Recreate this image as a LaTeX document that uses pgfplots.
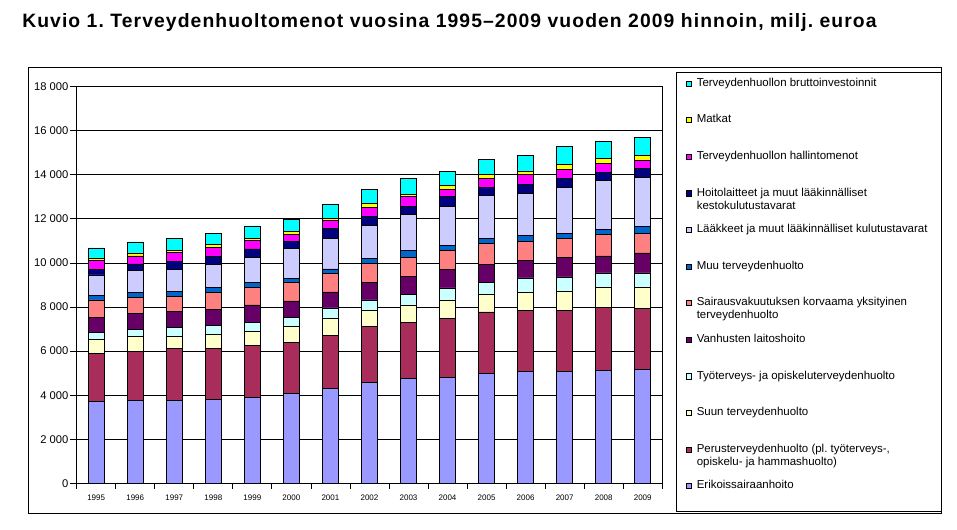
\documentclass[border=0pt]{standalone}
\usepackage{pgfplots}
\usepackage{pgfplotstable}
\pgfplotsset{compat=1.18}
\usepackage{fontspec}
\setmainfont{Liberation Sans}
\frenchspacing

\definecolor{cE}{HTML}{9999FF}
\definecolor{cP}{HTML}{A82D5A}
\definecolor{cS}{HTML}{FFFFCC}
\definecolor{cT}{HTML}{CCFFFF}
\definecolor{cV}{HTML}{660066}
\definecolor{cK}{HTML}{FF8080}
\definecolor{cM}{HTML}{0066CC}
\definecolor{cL}{HTML}{CCCCFF}
\definecolor{cH}{HTML}{000080}
\definecolor{cA}{HTML}{FF00FF}
\definecolor{cR}{HTML}{FFFF00}
\definecolor{cB}{HTML}{00FFFF}

\pgfplotstableread{
x  E    P    S    T    V    K    M    L    H    A    R    B
0  3710 2200 605  350  680  775  225  910  270  380  120  455
1  3775 2225 680  320  725  730  225  1000 275  365  135  500
2  3775 2330 575  410  700  710  225  975  365  395  120  530
3  3820 2315 635  395  740  775  225  1020 350  425  135  515
4  3910 2365 635  410  775  775  225  1160 380  380  105  560
5  4090 2320 695  425  745  820  210  1335 320  350  120  530
6  4320 2410 775  455  725  820  225  1395 425  380  105  605
7  4590 2545 730  455  775  865  255  1500 410  395  165  635
8  4775 2545 775  485  790  895  285  1635 365  470  90   710
9  4820 2680 820  545  820  865  225  1775 455  320  180  635
10 5000 2775 820  530  820  925  225  1955 380  395  180  680
11 5090 2775 820  635  775  865  270  1910 410  455  135  730
12 5090 2775 865  635  865  865  225  2090 410  410  230  820
13 5135 2865 910  635  775  955  225  2230 365  410  225  775
14 5180 2775 955  635  910  865  320  2230 410  365  230  820
}\datatable

\pgfplotsset{sq/.style={fill=#1, draw=black, line width=0.6pt,
  legend image code/.code={\draw[##1] (0pt,-1.9pt) rectangle (3.8pt,1.9pt);}}}

\begin{document}
\begin{tikzpicture}
\path (0,0) rectangle (717.75pt,397.5pt);
\node[anchor=base west, inner sep=0pt, font=\bfseries\fontsize{14.5}{17}\selectfont\addfontfeatures{LetterSpace=5.6}] at (16.5pt,376.5pt) {Kuvio 1. Terveydenhuoltomenot vuosina 1995–2009 vuoden 2009 hinnoin, milj. euroa};
\draw[line width=0.75pt] (21pt,12.5pt) rectangle (706pt,346.5pt);
\draw[line width=0.75pt] (507pt,13.7pt) rectangle (706pt,343.3pt);
\begin{axis}[
  at={(57.5pt,35pt)}, anchor=south west,
  scale only axis, width=439.2pt, height=297.5pt,
  ybar stacked, bar width=0.41,
  xmin=-0.5, xmax=14.5, ymin=0, ymax=18000,
  scaled y ticks=false,
  xtick={0,...,14},
  xticklabels={1995,1996,1997,1998,1999,2000,2001,2002,2003,2004,2005,2006,2007,2008,2009},
  major x tick style={draw=none},
  minor xtick={-0.5,0.5,...,14.5},
  xtick pos=bottom, ytick pos=left, tick align=outside,
  major tick length=5pt, minor tick length=4pt,
  ytick={0,2000,...,18000},
  yticklabels={0,2 000,4 000,6 000,8 000,10 000,12 000,14 000,16 000,18 000},
  yticklabel style={font=\fontsize{8.4}{10}\selectfont, inner xsep=1pt},
  xticklabel style={font=\fontsize{6}{7}\selectfont},
  ymajorgrids, grid style={black, line width=0.6pt},
  axis line style={black, line width=0.6pt},
  tick style={black, line width=0.6pt},
  legend style={at={(1,1)}, anchor=north west, xshift=17.8pt, yshift=6.5pt,
    draw=none, fill=none, inner sep=0pt, row sep=19.45pt, column sep=3.5pt,
    font=\fontsize{8.6}{9.75}\selectfont,
    nodes={inner sep=0pt, text height=6pt, text depth=2pt}},
  legend cell align=left, reverse legend,
]
\addplot[sq=cE] table[x=x,y=E]{\datatable};
\addlegendentry{Erikoissairaanhoito}
\addplot[sq=cP] table[x=x,y=P]{\datatable};
\addlegendentry{\parbox[t]{190pt}{Perusterveydenhuolto (pl. työterveys-,\\opiskelu- ja hammashuolto)}}
\addplot[sq=cS] table[x=x,y=S]{\datatable};
\addlegendentry{Suun terveydenhuolto}
\addplot[sq=cT] table[x=x,y=T]{\datatable};
\addlegendentry{Työterveys- ja opiskeluterveydenhuolto}
\addplot[sq=cV] table[x=x,y=V]{\datatable};
\addlegendentry{Vanhusten laitoshoito}
\addplot[sq=cK] table[x=x,y=K]{\datatable};
\addlegendentry{\parbox[t]{190pt}{Sairausvakuutuksen korvaama yksityinen\\terveydenhuolto}}
\addplot[sq=cM] table[x=x,y=M]{\datatable};
\addlegendentry{Muu terveydenhuolto}
\addplot[sq=cL] table[x=x,y=L]{\datatable};
\addlegendentry{Lääkkeet ja muut lääkinnälliset kulutustavarat}
\addplot[sq=cH] table[x=x,y=H]{\datatable};
\addlegendentry{\parbox[t]{190pt}{Hoitolaitteet ja muut lääkinnälliset\\kestokulutustavarat}}
\addplot[sq=cA] table[x=x,y=A]{\datatable};
\addlegendentry{Terveydenhuollon hallintomenot}
\addplot[sq=cR] table[x=x,y=R]{\datatable};
\addlegendentry{Matkat}
\addplot[sq=cB] table[x=x,y=B]{\datatable};
\addlegendentry{Terveydenhuollon bruttoinvestoinnit}
\end{axis}
\end{tikzpicture}
\end{document}
